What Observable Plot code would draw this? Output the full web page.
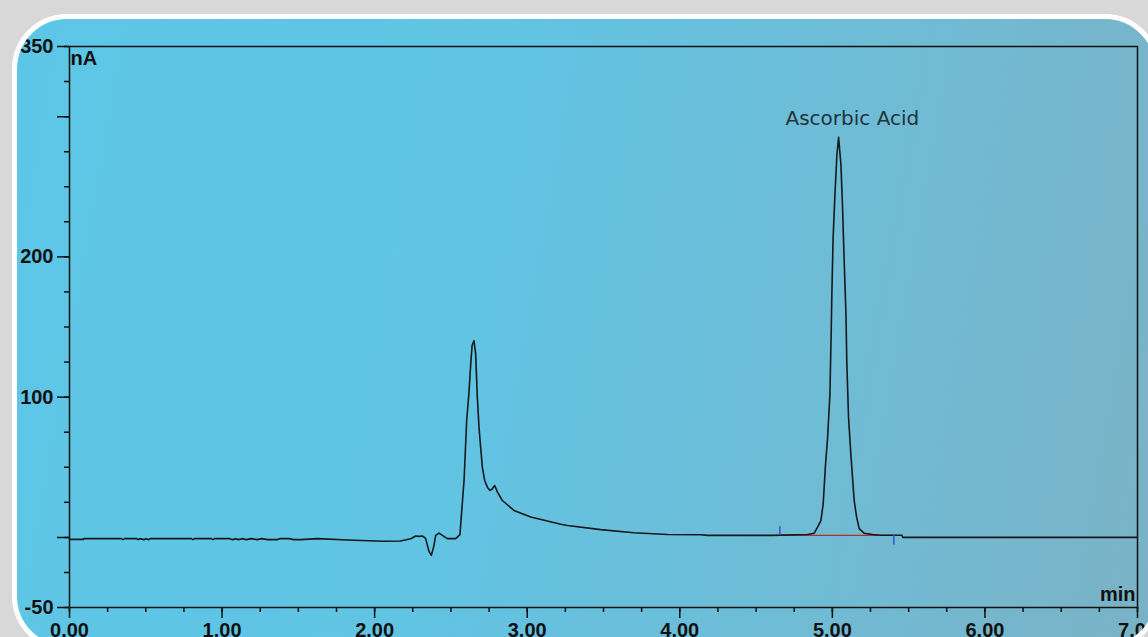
<!DOCTYPE html>
<html>
<head>
<meta charset="utf-8">
<script src="https://cdn.jsdelivr.net/npm/d3@7"></script>
<script src="https://cdn.jsdelivr.net/npm/@observablehq/plot@0.6"></script>
<style>
  html, body { margin: 0; padding: 0; width: 1148px; height: 637px; overflow: hidden; background: #d8d8d8; }
  #panel {
    position: absolute; left: 12px; top: 14px; width: 1148px; height: 637px;
    box-sizing: border-box; border: 5px solid #ffffff; border-radius: 55px;
    overflow: hidden;
    background: linear-gradient(100deg, #5dc6e6 0%, #61c4e3 40%, #6fbcd6 70%, #7ab2c5 100%);
  }
  #chart { position: absolute; left: -17px; top: -19px; }
</style>
</head>
<body>
<div id="panel"><div id="chart"></div></div>
<script>
// Retention time (min) and detector signal (nA)
const timeMin = [
  0.00, 0.09, 0.095, 0.34, 0.35, 0.36, 0.44, 0.45, 0.46, 0.49, 0.50, 0.52, 0.53,
  0.80, 0.81, 0.82, 0.93, 0.94, 0.95, 1.05, 1.07, 1.09, 1.11, 1.13, 1.16, 1.19,
  1.23, 1.26, 1.30, 1.36, 1.38, 1.44, 1.47, 1.515, 1.624, 1.864, 2.061, 2.170,
  2.236, 2.269, 2.291, 2.313, 2.334, 2.356, 2.372, 2.389, 2.400, 2.422, 2.444,
  2.477, 2.531, 2.559, 2.566, 2.586, 2.603, 2.618, 2.630, 2.639, 2.651, 2.662,
  2.673, 2.684, 2.695, 2.706, 2.721, 2.739, 2.756, 2.770, 2.787, 2.805, 2.837,
  2.913, 3.023, 3.220, 3.264, 3.482, 3.698, 3.919, 4.138, 4.182, 4.600, 4.837,
  4.881, 4.903, 4.925, 4.940, 4.954, 4.969, 4.984, 4.993, 4.997, 5.005, 5.018,
  5.030, 5.041, 5.056, 5.067, 5.077, 5.089, 5.095, 5.106, 5.121, 5.132, 5.143,
  5.159, 5.176, 5.208, 5.264, 5.318, 5.400, 5.456, 5.462, 6.000, 7.000
];
const signalNA = [
  -1.4, -1.4, -0.9, -0.9, -1.6, -0.9, -0.9, -1.6, -0.9, -1.6, -0.9, -1.6, -0.9,
  -0.9, -1.6, -0.9, -0.9, -1.6, -0.9, -0.9, -1.6, -0.9, -1.6, -0.9, -1.6, -0.9,
  -1.6, -0.9, -1.6, -1.6, -0.9, -0.9, -1.6, -1.6, -0.9, -2.1, -2.8, -2.6,
  -1.0, 1.0, 0.7, 1.0, -0.7, -10.0, -12.8, -5.7, 1.4, 3.0, 1.4,
  -0.9, -0.9, 2.0, 12.0, 40.6, 83.0, 103.0, 124.0, 137.0, 140.2, 131.0,
  100.0, 78.5, 64.0, 50.0, 40.6, 35.8, 33.5, 34.5, 37.0, 32.3, 26.3,
  19.2, 14.5, 9.3, 8.5, 5.5, 3.3, 2.1, 1.9, 1.4, 1.4, 2.1,
  3.0, 7.3, 12.0, 24.0, 50.0, 71.4, 102.0, 150.0, 175.0, 213.7, 247.0,
  273.0, 285.2, 266.0, 235.0, 198.6, 159.4, 123.6, 85.6, 59.6, 43.0, 26.3,
  14.4, 6.2, 3.0, 2.1, 1.5, 1.5, 1.5, 0.0, 0.0, 0.0
];

// Axis ticks
const majorX = [0, 1, 2, 3, 4, 5, 6, 7];
const minorX = d3.range(0, 7.001, 0.25);
const majorY = [-50, 0, 100, 200, 300, 350];
const labeledY = [-50, 100, 200, 350];
const minorY = d3.range(-50, 350.001, 25);

// Peak annotation and integration baseline
const peakNames = ["Ascorbic Acid"];
const peakTimes = [5.131];
const peakLabelLevel = [294];
const integrationStart = 4.656;
const integrationEnd = 5.403;
const integrationLevel = 1.4;
const startMarkTop = 7.5;
const endMarkBottom = -5.7;

const trace = timeMin.map((t, i) => ({t, v: signalNA[i]}));
const peaks = peakNames.map((name, i) => ({name, t: peakTimes[i], v: peakLabelLevel[i]}));
const baseline = [{t: integrationStart, v: integrationLevel}, {t: integrationEnd, v: integrationLevel}];

const axisFont = {fontSize: 20, fontWeight: "bold", fill: "#111"};

const chart = Plot.plot({
  width: 1148, height: 637,
  marginLeft: 69, marginRight: 11, marginTop: 46, marginBottom: 30,
  style: {background: "transparent", overflow: "visible", fontFamily: "'Liberation Sans', Arial, sans-serif", color: "#111"},
  x: {domain: [0, 7]},
  y: {domain: [-50, 350]},
  marks: [
    Plot.axisY(minorY, {anchor: "left", tickSize: 5, tickFormat: () => "", stroke: "#111", strokeWidth: 1.5, label: null}),
    Plot.axisY(majorY, {anchor: "left", tickSize: 12, tickPadding: 4, stroke: "#111", strokeWidth: 1.5, label: null,
      tickFormat: d => labeledY.includes(d) ? String(d) : "", ...axisFont}),
    Plot.axisX(minorX, {anchor: "bottom", tickSize: 5, tickFormat: () => "", stroke: "#111", strokeWidth: 1.5, label: null}),
    Plot.axisX(majorX, {anchor: "bottom", tickSize: 11, tickPadding: 4, stroke: "#111", strokeWidth: 1.5, label: null,
      tickFormat: d3.format(".2f"), ...axisFont}),
    Plot.frame({stroke: "#111", strokeWidth: 1.5}),
    Plot.line(baseline, {x: "t", y: "v", stroke: "#b0302c", strokeWidth: 1.4}),
    Plot.line(trace, {x: "t", y: "v", stroke: "#15191b", strokeWidth: 1.6}),
    Plot.ruleX([integrationStart], {y1: integrationLevel, y2: startMarkTop, stroke: "#3d57c8", strokeWidth: 1.6}),
    Plot.ruleX([integrationEnd], {y1: integrationLevel, y2: endMarkBottom, stroke: "#3d57c8", strokeWidth: 1.6}),
    Plot.text(peaks, {x: "t", y: "v", text: "name", textAnchor: "middle", lineAnchor: "bottom",
      fontSize: 20, fill: "#22343a", fontFamily: "'DejaVu Sans', sans-serif", style: "letter-spacing:0.5px"}),
    Plot.text(["nA"], {x: () => 0, y: () => 336.5, text: d => d, textAnchor: "start", lineAnchor: "bottom", dx: 1, ...axisFont}),
    Plot.text(["min"], {x: () => 7, y: () => -45.6, text: d => d, textAnchor: "end", lineAnchor: "bottom", dx: -2, ...axisFont})
  ]
});
document.getElementById("chart").appendChild(chart);
</script>
</body>
</html>
